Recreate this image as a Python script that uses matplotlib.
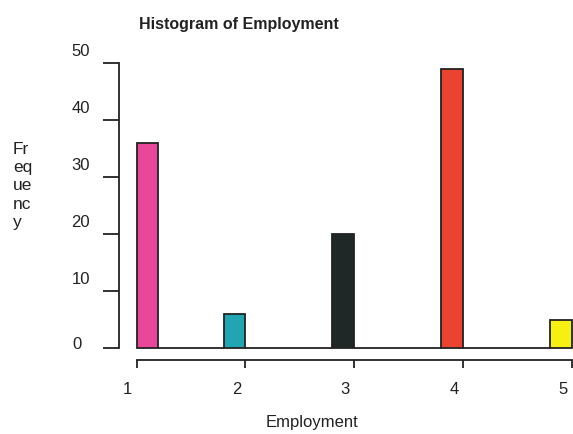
import numpy as np
import matplotlib
matplotlib.use('Agg')
import matplotlib.pyplot as plt
import matplotlib.transforms as mtransforms

plt.rcParams['font.family'] = ['Liberation Sans', 'DejaVu Sans']

# employment category -> frequency (R style hist, breaks every 0.2, right closed)
categories = [1, 2, 3, 4, 5]
counts = [36, 6, 20, 49, 5]
bar_colors = ['#e8479a', '#22a5b3', '#1f2727', '#ea4431', '#f7ee12']
bin_width = 0.2
xticks = [1, 2, 3, 4, 5]
yticks = [0, 10, 20, 30, 40, 50]

edges = np.arange(1, 5 + bin_width / 2, bin_width)
heights = np.zeros(len(edges) - 1)
colors = ['white'] * len(heights)
for c, n, col in zip(categories, counts, bar_colors):
    i = 0 if c == 1 else int(round((c - 1) / bin_width)) - 1
    heights[i] = n
    colors[i] = col

fig = plt.figure(figsize=(5.73, 4.34), dpi=100)
W, H = 573, 434
# axes placed so that the R-like region (4% padding) matches the scan
ax = fig.add_axes([119.1 / W, 1 - 359.5 / H, 470.3 / W, 301.7 / H])
ax.set_xlim(0.84, 5.16)
ax.set_ylim(-1.96, 50.96)

ax.bar(edges[:-1], heights, width=bin_width, align='edge', color=colors,
       edgecolor='#222222', linewidth=1.3, clip_on=False)

for s in ['top', 'right']:
    ax.spines[s].set_visible(False)
ax.spines['left'].set_bounds(0, 50)
ax.spines['bottom'].set_bounds(1, 5)
for s in ['left', 'bottom']:
    ax.spines[s].set_linewidth(1.3)
    ax.spines[s].set_color('#222222')

ax.set_xticks(xticks)
ax.set_yticks(yticks)
ax.tick_params(axis='y', length=11.5, width=1.3, color='#222222', labelleft=False)
ax.tick_params(axis='x', length=5.8, width=1.3, color='#222222', labelbottom=False)

fs = 12
# tick labels sit slightly off their ticks in the scan
ytrans = mtransforms.blended_transform_factory(fig.transFigure, ax.transData)
for v in yticks:
    dy = 4 if v == 0 else 11.5
    xr = 82 if v == 0 else 90
    off = mtransforms.ScaledTranslation(0, dy / 100, fig.dpi_scale_trans)
    ax.text(xr / W, v, str(v), transform=ytrans + off, ha='right', va='center',
            fontsize=fs, color='#222222')

xtrans = mtransforms.blended_transform_factory(ax.transData, fig.transFigure)
for v in xticks:
    off = mtransforms.ScaledTranslation(-9 / 100, 0, fig.dpi_scale_trans)
    ax.text(v, 1 - 390 / H, str(v), transform=xtrans + off, ha='center', va='center',
            fontsize=fs, color='#222222', clip_on=False)

fig.text(239 / W, 1 - 24 / H, 'Histogram of Employment', ha='center', va='center',
         fontsize=11.5, fontweight='bold', color='#222222')
fig.text(312 / W, 1 - 422 / H, 'Employment', ha='center', va='center',
         fontsize=fs, color='#222222')
fig.text(13 / W, 1 - 186 / H, 'Fr\neq\nue\nnc\ny', ha='left', va='center',
         fontsize=12.5, color='#222222', linespacing=1.27)

fig.savefig('out.png', dpi=100)
